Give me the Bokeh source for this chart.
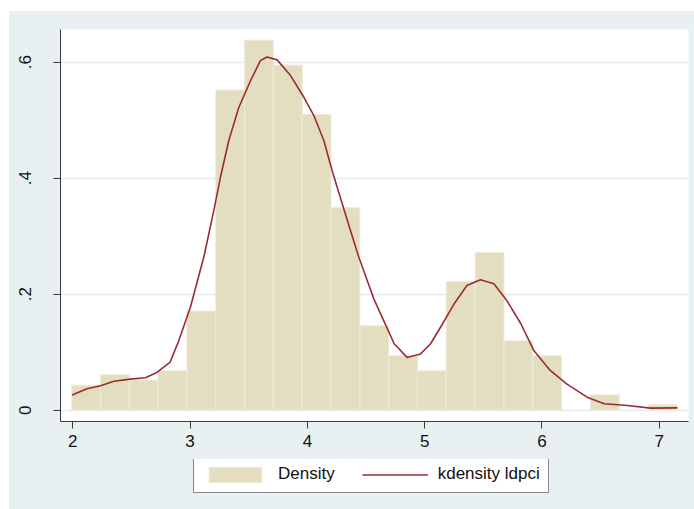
from bokeh.plotting import figure
from bokeh.models import Range1d, FixedTicker, Legend, LegendItem, ColumnDataSource, Spacer
from bokeh.layouts import column, row
from bokeh.embed import file_html
from bokeh.resources import INLINE

# Histogram bins (21 bins) and their densities
bin_edges = [1.990, 2.236, 2.481, 2.727, 2.973, 3.219, 3.464, 3.710, 3.956, 4.201, 4.447,
             4.693, 4.938, 5.184, 5.430, 5.676, 5.921, 6.167, 6.413, 6.658, 6.904, 7.150]
density = [0.043, 0.061, 0.052, 0.068, 0.171, 0.552, 0.638, 0.595, 0.510, 0.349, 0.1455,
           0.094, 0.068, 0.222, 0.272, 0.1196, 0.094, 0.0, 0.0265, 0.0, 0.0093]

# Kernel density estimate of ldpci
kde_x = [2.00, 2.12, 2.237, 2.35, 2.49, 2.62, 2.72, 2.83, 2.904, 3.003, 3.117, 3.202, 3.259,
         3.33, 3.415, 3.515, 3.60, 3.657, 3.742, 3.856, 3.969, 4.055, 4.14, 4.211, 4.297,
         4.367, 4.438, 4.566, 4.638, 4.74, 4.85, 4.965, 5.05, 5.135, 5.25, 5.36, 5.475,
         5.59, 5.70, 5.82, 5.93, 6.07, 6.21, 6.385, 6.53, 6.73, 6.925, 7.15]
kde_y = [0.0265, 0.037, 0.042, 0.050, 0.0535, 0.056, 0.0655, 0.083, 0.120, 0.178, 0.264,
         0.344, 0.402, 0.465, 0.522, 0.568, 0.603, 0.609, 0.604, 0.577, 0.540, 0.508, 0.465,
         0.413, 0.356, 0.310, 0.264, 0.192, 0.160, 0.1145, 0.091, 0.097, 0.1145, 0.143,
         0.183, 0.215, 0.225, 0.218, 0.189, 0.149, 0.103, 0.0685, 0.0455, 0.0224, 0.011,
         0.008, 0.0035, 0.004]

x_ticks = [2, 3, 4, 5, 6, 7]
x_tick_labels = ["2", "3", "4", "5", "6", "7"]
y_ticks = [0, 0.2, 0.4, 0.6]
y_tick_labels = ["0", ".2", ".4", ".6"]

series_labels = ["Density", "kdensity ldpci"]

BG = "#E9F0F2"
BAR = "#E3DEBF"
BAR_EDGE = "#EEEBD8"
LINE = "#9A2C36"
FONT = "Liberation Sans"

p = figure(width=685, height=448, output_backend="svg", toolbar_location=None,
           x_range=Range1d(1.8951, 7.2490), y_range=Range1d(-0.0195, 0.6564),
           min_border_left=51, min_border_right=6, min_border_top=18, min_border_bottom=38)
p.title.visible = False
p.border_fill_color = BG
p.background_fill_color = "white"
p.outline_line_color = None

# bars (skip empty bins)
lefts, rights, tops = [], [], []
for i, h in enumerate(density):
    if h > 0:
        lefts.append(bin_edges[i])
        rights.append(bin_edges[i + 1])
        tops.append(h)
bar_src = ColumnDataSource(dict(left=lefts, right=rights, top=tops, bottom=[0] * len(tops)))
bars = p.quad(left="left", right="right", top="top", bottom="bottom", source=bar_src,
              fill_color=BAR, line_color=BAR_EDGE, line_width=1)

kde_src = ColumnDataSource(dict(x=kde_x, y=kde_y))
line = p.line("x", "y", source=kde_src, line_color=LINE, line_width=1.6,
              line_join="round", line_cap="round")

# axes
for ax in (p.xaxis[0], p.yaxis[0]):
    ax.axis_line_color = "#3C3C3C"
    ax.axis_line_width = 1
    ax.major_tick_line_color = "#3C3C3C"
    ax.major_tick_out = 7
    ax.major_tick_in = 0
    ax.minor_tick_line_color = None
    ax.major_label_text_font = FONT
    ax.major_label_text_font_size = "17px"
    ax.major_label_text_color = "#111111"

p.xaxis.ticker = FixedTicker(ticks=x_ticks)
p.xaxis.major_label_overrides = {t: l for t, l in zip(x_ticks, x_tick_labels)}
p.xaxis.major_label_standoff = 6

p.yaxis.ticker = FixedTicker(ticks=y_ticks)
p.yaxis.major_label_overrides = {t: l for t, l in zip(y_ticks, y_tick_labels)}
p.yaxis.major_label_orientation = "vertical"
p.yaxis.major_label_standoff = 22

p.xgrid.visible = False
p.ygrid.ticker = FixedTicker(ticks=y_ticks)
p.ygrid.grid_line_color = "#E3EBEE"
p.ygrid.grid_line_width = 1.5

# legend panel below the plot (same data, drawn out of view so only the key shows)
p2 = figure(width=685, height=50, output_backend="svg", toolbar_location=None,
            x_range=Range1d(-20, -19), y_range=Range1d(-20, -19),
            min_border_left=51, min_border_right=6, min_border_top=0, min_border_bottom=0)
p2.title.visible = False
p2.axis.visible = False
p2.grid.visible = False
p2.outline_line_color = None
p2.border_fill_color = BG
p2.background_fill_color = BG
leg_bar = p2.quad(left="left", right="right", top="top", bottom="bottom", source=bar_src,
                  fill_color=BAR, line_color=BAR_EDGE, line_width=1)
leg_line = p2.line("x", "y", source=kde_src, line_color=LINE, line_width=1.6)

legend = Legend(items=[LegendItem(label=series_labels[0], renderers=[leg_bar]),
                       LegendItem(label=series_labels[1], renderers=[leg_line])],
                orientation="horizontal", location=(133, 16))
legend.label_text_font = FONT
legend.label_text_font_size = "17px"
legend.label_text_color = "#111111"
legend.label_standoff = 10
legend.glyph_width = 66
legend.glyph_height = 19
legend.padding = 8
legend.spacing = 27
legend.margin = 0
legend.border_line_color = "#111111"
legend.border_line_width = 1
legend.background_fill_color = "white"
legend.background_fill_alpha = 1
p2.add_layout(legend, "center")

inner = column(p, p2, styles={"background-color": BG})
layout = column(Spacer(width=694, height=11),
                row(Spacer(width=9, height=498), inner))

open("out.html", "w").write(file_html(layout, INLINE))
